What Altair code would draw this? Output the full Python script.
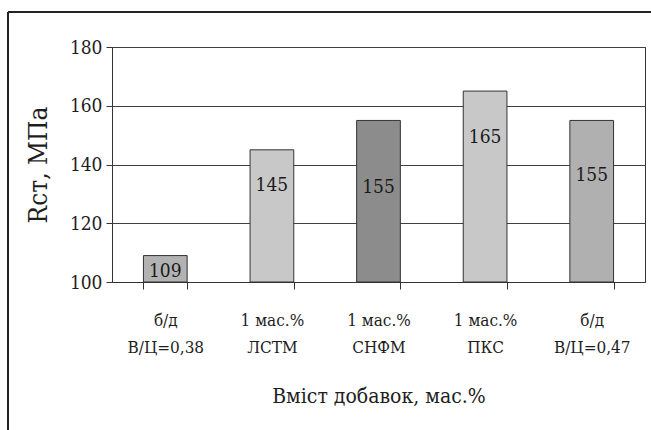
import altair as alt
import pandas as pd

# Additive groups (two-line axis labels) and compressive strength, MPa
line_top = ["б/д", "1 мас.%", "1 мас.%", "1 мас.%", "б/д"]
line_bottom = ["В/Ц=0,38", "ЛСТМ", "СНФМ", "ПКС", "В/Ц=0,47"]
strength = [109, 145, 155, 165, 155]

# Bar fills and how far each value label sits below its bar top (px)
fills = ["#b2b2b2", "#c8c8c8", "#8c8c8c", "#c8c8c8", "#b0b0b0"]
label_drop = [15, 35, 67, 46, 55]

cats = [f"{a}|{b}" for a, b in zip(line_top, line_bottom)]
df = pd.DataFrame({"cat": cats, "val": strength, "drop": label_drop})

FONT = "DejaVu Serif Condensed, DejaVu Serif"
INK = "#1e1e1e"
PLOT_H = 235
Y_MIN, Y_MAX = 100, 180

x = alt.X(
    "cat:N",
    sort=cats,
    scale=alt.Scale(paddingInner=0.59, paddingOuter=0.295),
    axis=alt.Axis(
        title="Вміст добавок, мас.%",
        labelAngle=0,
        labelExpr="split(datum.label, '|')",
        labelLineHeight=27,
        labelFontSize=17,
        labelFont=FONT,
        labelPadding=23,
        tickBand="extent",
        tickSize=7,
        grid=False,
        titleFont=FONT,
        titleFontSize=21,
        titleFontWeight="normal",
        titlePadding=30,
    ),
)

y_scale = alt.Scale(domain=[Y_MIN, Y_MAX], nice=False, zero=False)

bars = alt.Chart(df).mark_bar(stroke="#333333", strokeWidth=1).encode(
    x=x,
    y=alt.Y(
        "val:Q",
        scale=y_scale,
        axis=alt.Axis(
            title="Rст, МПа",
            values=[100, 120, 140, 160, 180],
            tickSize=6,
            labelFont=FONT,
            labelFontSize=19,
            labelPadding=4,
            titleFont=FONT,
            titleFontSize=26,
            titleFontWeight="normal",
            titlePadding=18,
            grid=True,
        ),
    ),
    y2=alt.datum(Y_MIN),
    color=alt.Color("cat:N", sort=cats, scale=alt.Scale(domain=cats, range=fills), legend=None),
)

labels = (
    alt.Chart(df)
    .transform_calculate(ly=f"datum.val - datum.drop * {Y_MAX - Y_MIN} / {PLOT_H}")
    .mark_text(font=FONT, fontSize=19, color="#1a1a1a", baseline="middle")
    .encode(
        x=alt.X("cat:N", sort=cats),
        y=alt.Y("ly:Q", scale=y_scale),
        text=alt.Text("val:Q"),
    )
)

# Outer frame of the figure (left and top edges)
frame_left = alt.Chart(df).mark_rule(color="#222222", strokeWidth=2).encode(
    x=alt.value(-104), y=alt.value(-35), y2=alt.value(400)
)
frame_top = alt.Chart(df).mark_rule(color="#222222", strokeWidth=2).encode(
    x=alt.value(-104), x2=alt.value(600), y=alt.value(-35)
)

chart = (
    alt.layer(bars, labels, frame_left, frame_top)
    .properties(
        width=533,
        height=PLOT_H,
        autosize=alt.AutoSizeParams(type="none"),
        padding={"left": 112, "top": 47, "right": 6, "bottom": 148},
        background="white",
    )
    .configure_view(stroke="#333333", strokeWidth=1)
    .configure_axis(
        labelColor=INK,
        titleColor=INK,
        domainColor="#333333",
        tickColor="#333333",
        gridColor="#404040",
        gridWidth=1,
    )
)

chart.save("out.html", embed_options={"renderer": "svg", "actions": False})
